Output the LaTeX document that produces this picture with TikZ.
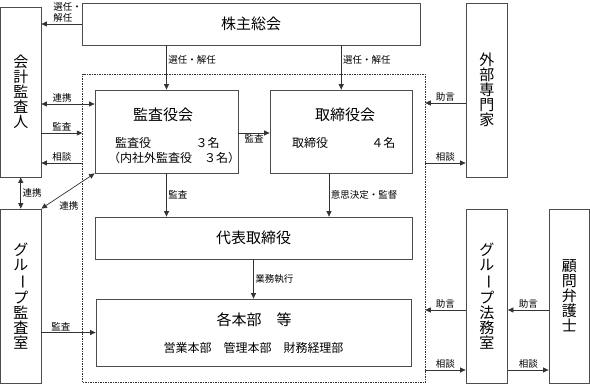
\documentclass[tikz,border=0pt]{standalone}
\usepackage{fontspec}
\setmainfont{Noto Sans CJK JP}
\usepackage{graphicx}
\usetikzlibrary{arrows.meta}

\newcommand{\tatebar}{\rotatebox[origin=c]{-90}{ー}}

\begin{document}
\begin{tikzpicture}[
  x=1pt,
  y=-1pt,
  box/.style={draw=black!70, line width=0.8pt, inner sep=0pt},
  tate/.style={box, align=center, font=\fontsize{15}{15}\selectfont},
  title/.style={font=\fontsize{15}{17}\selectfont, inner sep=0pt},
  body/.style={font=\fontsize{12}{14}\selectfont, inner sep=0pt},
  lab/.style={font=\fontsize{9.5}{11}\selectfont, inner sep=1.5pt},
  arr/.style={draw=black!80, line width=0.7pt,
    -{Triangle[length=5.5pt,width=5pt]}},
  both/.style={draw=black!80, line width=0.7pt,
    {Triangle[length=5.5pt,width=5pt]}-{Triangle[length=5.5pt,width=5pt]}}
]
  \path[use as bounding box] (0,0) rectangle (590,384);

  % Company side, inside the dashed frame.
  \node[box, draw=black!80, dash pattern=on 1.5pt off 1pt, line width=0.5pt,
    minimum width=342.5, minimum height=308.5] (board) at (253.75,228.25) {};
  \node[box, minimum width=338, minimum height=42, title] (sokai)
    at (251,24) {株主総会};
  \node[box, minimum width=143, minimum height=83] (kansayaku)
    at (166.5,131.5) {};
  \node[title] (kansayaku title) at (163,115) {監査役会};
  \node[body, anchor=west] (kansayaku num) at (115,143)
    {監査役\hspace{3.7em}３名};
  \node[body, anchor=west] (kansayaku gai) at (108,158)
    {（内社外監査役　３名）};
  \node[box, minimum width=142.5, minimum height=83] (torishimari)
    at (341.25,131.5) {};
  \node[title] (torishimari title) at (345,115) {取締役会};
  \node[body, anchor=west] (torishimari num) at (292,143)
    {取締役\hspace{3.6em}４名};
  \node[box, minimum width=317, minimum height=42, title] (daihyo)
    at (253.5,238) {代表取締役};
  \node[box, minimum width=315, minimum height=67] (honbu)
    at (253.5,332.5) {};
  \node[title] (honbu title) at (254,320) {各本部　等};
  \node[body] (honbu list) at (253.5,348) {営業本部　管理本部　財務経理部};

  % Outside parties, set as vertical text.
  \node[tate, minimum width=40.5, minimum height=170] (kaikei)
    at (20.75,92) {会\\計\\監\\査\\人};
  \node[tate, minimum width=40.5, minimum height=174] (gkansa)
    at (20.75,296) {グ\\ル\\\tatebar\\プ\\監\\査\\室};
  \node[tate, minimum width=41.5, minimum height=174] (gaibu)
    at (486.75,90) {外\\部\\専\\門\\家};
  \node[tate, minimum width=41.5, minimum height=174] (ghomu)
    at (486.75,296) {グ\\ル\\\tatebar\\プ\\法\\務\\室};
  \node[tate, minimum width=40.5, minimum height=174] (komon)
    at (569.25,296) {顧\\問\\弁\\護\\士};

  % Appointment by the shareholders.
  \draw[arr] (sokai.west) -- (kaikei.east |- sokai.west)
    node[lab, pos=0.75, anchor=south west, align=left] {選任・\\解任};
  \draw[arr] (kansayaku.north |- sokai.south) -- (kansayaku.north)
    node[lab, pos=0.33, right] {選任・解任};
  \draw[arr] (torishimari.north |- sokai.south) -- (torishimari.north)
    node[lab, pos=0.33, right] {選任・解任};

  % Accounting auditor and audit office.
  \draw[both] (kaikei.east |- 0,104) -- (kansayaku.west |- 0,104)
    node[lab, pos=0.39, above] {連携};
  \draw[arr] (kaikei.east |- 0,133) -- (board.west |- 0,133)
    node[lab, midway, above] {監査};
  \draw[arr] (board.west |- 0,163) -- (kaikei.east |- 0,163)
    node[lab, midway, above] {相談};
  \draw[both] (kaikei.south) -- (gkansa.north)
    node[lab, midway, right] {連携};
  \draw[both] (kansayaku.south west) -- (gkansa.north east)
    node[lab, midway, xshift=1pt, yshift=-15pt] {連携};
  \draw[arr] (gkansa.east |- honbu.west) -- (honbu.west)
    node[lab, pos=0.36, above] {監査};

  % Inside the company.
  \draw[arr] (kansayaku.east |- 0,133) -- (torishimari.west |- 0,133)
    node[lab, midway, below] {監査};
  \draw[arr] (kansayaku.south) -- (daihyo.north -| kansayaku.south)
    node[lab, midway, right] {監査};
  \draw[arr] (torishimari.south -| 329,0) -- (daihyo.north -| 329,0)
    node[lab, midway, right] {意思決定・監督};
  \draw[arr] (daihyo.south) -- (daihyo.south |- honbu.north)
    node[lab, midway, right] {業務執行};

  % Advisers on the right.
  \draw[arr] (gaibu.west |- 0,103) -- (board.east |- 0,103)
    node[lab, midway, above] {助言};
  \draw[arr] (board.east |- 0,163) -- (gaibu.west |- 0,163)
    node[lab, midway, above] {相談};
  \draw[arr] (ghomu.west |- 0,310) -- (board.east |- 0,310)
    node[lab, midway, above] {助言};
  \draw[arr] (board.east |- 0,370) -- (ghomu.west |- 0,370)
    node[lab, midway, above] {相談};
  \draw[arr] (komon.west |- 0,310) -- (ghomu.east |- 0,310)
    node[lab, midway, above] {助言};
  \draw[arr] (ghomu.east |- 0,370) -- (komon.west |- 0,370)
    node[lab, midway, above] {相談};
\end{tikzpicture}
\end{document}
